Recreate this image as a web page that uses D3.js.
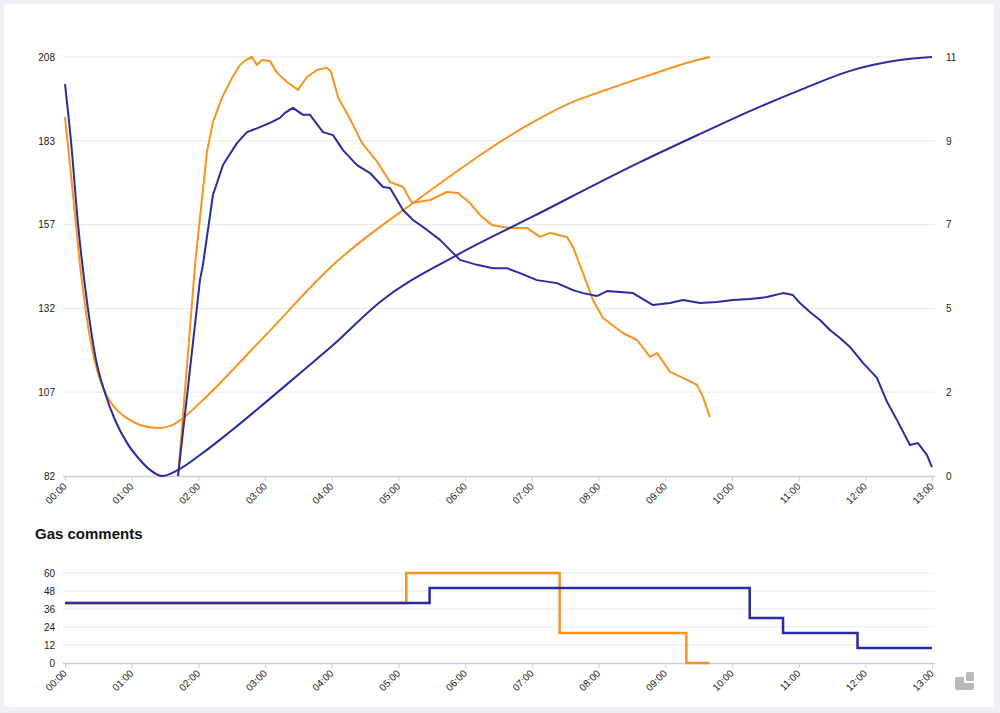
<!DOCTYPE html>
<html><head><meta charset="utf-8">
<script src="https://cdn.jsdelivr.net/npm/d3@7"></script>
<style>
html,body{margin:0;padding:0;background:#eef0f3;}
svg{display:block;font-family:"Liberation Sans",Arial,sans-serif;}
</style></head><body>
<svg id="chart" width="1000" height="713"></svg>
<script>
// ---------- data ----------
const timeLabels = ["00:00","01:00","02:00","03:00","04:00","05:00","06:00","07:00","08:00","09:00","10:00","11:00","12:00","13:00"];
const leftTickLabels = ["82","107","132","157","183","208"];
const rightTickLabels = ["0","2","5","7","9","11"];
const gasTickLabels = ["0","12","24","36","48","60"];

// right axis series (minutes since 00:00, value)
const orangeRiseMinutes = [0,4.5,9.0,13.5,18.0,22.5,27.0,31.5,38.7,46.8,56.7,67.5,82.8,94.5,106.2,121.4,179.9,241.1,319.4,424.6,454.3,481.2,526.3,562.3,580.2];
const orangeRiseValues  = [9.42,8.16,6.85,5.54,4.49,3.62,2.99,2.52,2.05,1.73,1.50,1.34,1.26,1.31,1.52,1.92,3.68,5.54,7.30,9.35,9.79,10.08,10.53,10.87,11.0];

const blueRiseMinutes = [0,5.4,11.7,20.7,27.9,36,45,55.8,67.5,76.5,87.3,101.7,121.4,148.4,179.9,211.4,240.2,283.4,352.6,420.1,517.3,571.3,616.2,661.2,705.7,751.2,780];
const blueRiseValues  = [10.29,8.79,6.62,4.38,3.05,2.18,1.47,0.87,0.42,0.16,0,0.16,0.55,1.16,1.92,2.70,3.41,4.57,5.80,6.80,8.24,8.98,9.58,10.13,10.63,10.92,11.0];

// left axis series
const orangePeakMinutes = [101.7,109.8,117,121.4,127.7,133.1,141.2,150.2,157.4,162.8,168.2,172.7,177.2,184.4,190.7,199.7,209.6,217.7,226.7,235.7,239.3,245.6,258.2,267.2,280.7,292.4,304.1,312.2,328.4,343.6,353.5,364.3,373.3,384.1,394.0,403.0,415.6,427.3,436.3,451.6,457.0,466.0,475.0,484.0,502.0,514.6,526.3,532.6,544.3,556.0,568.5,573.9,580.2];
const orangePeakValues  = [82.0,115.4,145.5,159.6,179.4,188.5,195.7,201.7,205.6,207.1,208.0,205.6,207.1,206.8,203.3,200.5,198.1,202.0,204.1,204.8,203.5,196.0,188.2,182.1,176.6,170.4,168.9,164.1,165.0,167.4,167.1,164.1,160.5,157.5,156.9,156.6,156.6,153.9,155.1,153.9,150.9,143.0,134.9,129.5,125.0,122.9,117.8,119.0,113.3,111.5,109.4,105.8,99.7];

const bluePeakMinutes = [101.7,111.6,121.4,124.1,133.1,142.1,154.7,163.7,175.4,184.4,193.4,197.9,205.1,214.1,220.4,232.1,241.1,250.1,262.7,274.4,286.1,292.4,304.1,313.1,325.7,337.4,346.3,355.3,370.6,385.0,397.6,409.3,424.6,442.6,457.0,466.0,478.6,487.6,499.3,511.0,529.0,544.3,556.0,571.3,586.5,600.9,616.2,631.5,645.9,654.9,661.2,670.2,679.2,688.2,697.2,706.2,717.9,730.5,739.5,748.5,760.2,767.4,775.5,780];
const bluePeakValues  = [82.0,111.5,140.9,145.5,166.5,175.5,182.1,185.4,186.9,188.2,189.7,191.2,192.7,190.6,190.6,185.4,184.5,180.0,175.5,173.1,168.9,168.6,162.0,159.0,156.0,153.0,150.0,147.0,145.5,144.5,144.5,143.0,140.9,140.0,137.9,137.0,136.1,137.6,137.3,137.0,133.4,134.0,134.9,134.0,134.3,134.9,135.2,135.8,137.0,136.4,134.0,131.3,128.9,125.9,123.5,120.8,116.0,111.5,104.3,98.8,91.3,91.9,88.3,84.7];

// gas comments (step series)
const gasOrangeMinutes = [0,307,445,559,580];
const gasOrangeValues  = [40,60,20,0,0];
const gasBlueMinutes = [0,328,616,646,713,780];
const gasBlueValues  = [40,50,30,20,10,10];

// ---------- drawing ----------
const ORANGE = "#f7931e", BLUE = "#2a2c9e";
const GRID = "#e6e9ee", AXIS = "#c5cfda", TEXT = "#222";

const svg = d3.select("#chart");
svg.append("rect").attr("x",4).attr("y",4).attr("width",990).attr("height",703)
  .attr("rx",4).attr("fill","#fff");

const x = d3.scaleLinear().domain([0,780]).range([65,932]);
const yL = d3.scaleLinear().domain([82,208]).range([476,57]);
const yR = d3.scaleLinear().domain([0,11]).range([476,57]);
const yG = d3.scaleLinear().domain([0,60]).range([663,573]);

const hourTicks = d3.range(0,781,60);
const leftVals = d3.range(6).map(i=>82+i*25.2);
const rightVals = d3.range(6).map(i=>i*2.2);
const gasVals = d3.range(6).map(i=>i*12);

function zip(a,b){return a.map((d,i)=>[d,b[i]]);}

// grid main
svg.append("g").selectAll("line").data(leftVals.slice(1)).join("line")
  .attr("x1",63).attr("x2",935).attr("y1",d=>yL(d)).attr("y2",d=>yL(d))
  .attr("stroke",GRID).attr("stroke-width",1);
// grid gas
svg.append("g").selectAll("line").data(gasVals.slice(1)).join("line")
  .attr("x1",63).attr("x2",935).attr("y1",d=>yG(d)).attr("y2",d=>yG(d))
  .attr("stroke",GRID).attr("stroke-width",1);

function styleAxisText(g){
  g.selectAll("text").attr("fill",TEXT).style("font-size","10px");
}

// left axis
svg.append("g").attr("transform","translate(65,0)")
  .call(d3.axisLeft(yL).tickValues(leftVals).tickFormat((d,i)=>leftTickLabels[i]).tickSize(0).tickPadding(10))
  .call(g=>g.select(".domain").remove())
  .call(styleAxisText);
// right axis
svg.append("g").attr("transform","translate(932,0)")
  .call(d3.axisRight(yR).tickValues(rightVals).tickFormat((d,i)=>rightTickLabels[i]).tickSize(0).tickPadding(14))
  .call(g=>g.select(".domain").remove())
  .call(styleAxisText);

function bottomAxis(yPos){
  const g = svg.append("g").attr("transform",`translate(0,${yPos})`)
    .call(d3.axisBottom(x).tickValues(hourTicks).tickFormat((d,i)=>timeLabels[i]).tickSize(5).tickSizeOuter(0));
  g.select(".domain").attr("stroke",AXIS).attr("stroke-width",1.5).attr("d",`M63,0.5H935`);
  g.selectAll(".tick line").attr("stroke",AXIS);
  g.selectAll("text").attr("fill",TEXT).style("font-size","10px")
    .attr("x",0).attr("y",0).attr("dy",0)
    .attr("text-anchor","end")
    .attr("transform","translate(2,11) rotate(-45)");
  return g;
}
bottomAxis(476);

// gas axis
svg.append("g").attr("transform","translate(65,0)")
  .call(d3.axisLeft(yG).tickValues(gasVals).tickFormat((d,i)=>gasTickLabels[i]).tickSize(0).tickPadding(10))
  .call(g=>g.select(".domain").remove())
  .call(styleAxisText);
bottomAxis(663);

// lines main
const lineR = d3.line().x(d=>x(d[0])).y(d=>yR(d[1])).curve(d3.curveMonotoneX);
const lineL = d3.line().x(d=>x(d[0])).y(d=>yL(d[1])).curve(d3.curveLinear);

svg.append("path").datum(zip(orangeRiseMinutes,orangeRiseValues)).attr("d",lineR)
  .attr("fill","none").attr("stroke",ORANGE).attr("stroke-width",2);
svg.append("path").datum(zip(orangePeakMinutes,orangePeakValues)).attr("d",lineL)
  .attr("fill","none").attr("stroke",ORANGE).attr("stroke-width",2).attr("stroke-linejoin","round");
svg.append("path").datum(zip(blueRiseMinutes,blueRiseValues)).attr("d",lineR)
  .attr("fill","none").attr("stroke",BLUE).attr("stroke-width",2);
svg.append("path").datum(zip(bluePeakMinutes,bluePeakValues)).attr("d",lineL)
  .attr("fill","none").attr("stroke",BLUE).attr("stroke-width",2).attr("stroke-linejoin","round");

// gas title
svg.append("text").attr("x",35).attr("y",539).text("Gas comments")
  .attr("fill","#111").style("font-size","15px").style("font-weight","bold");

const stepLine = d3.line().x(d=>x(d[0])).y(d=>yG(d[1])).curve(d3.curveStepAfter);
svg.append("path").datum(zip(gasOrangeMinutes,gasOrangeValues)).attr("d",stepLine)
  .attr("fill","none").attr("stroke",ORANGE).attr("stroke-width",2.5);
svg.append("path").datum(zip(gasBlueMinutes,gasBlueValues)).attr("d",stepLine)
  .attr("fill","none").attr("stroke",BLUE).attr("stroke-width",2.5);

// logo
const logo = svg.append("g").attr("fill","#b9b9b9");
logo.append("path").attr("d","M957,677 h7 v6 h10 v5 q0,2 -2,2 h-15 q-2,0 -2,-2 v-9 q0,-2 2,-2 z");
logo.append("rect").attr("x",966).attr("y",672).attr("width",8).attr("height",9).attr("rx",1.5);
</script>
</body></html>
